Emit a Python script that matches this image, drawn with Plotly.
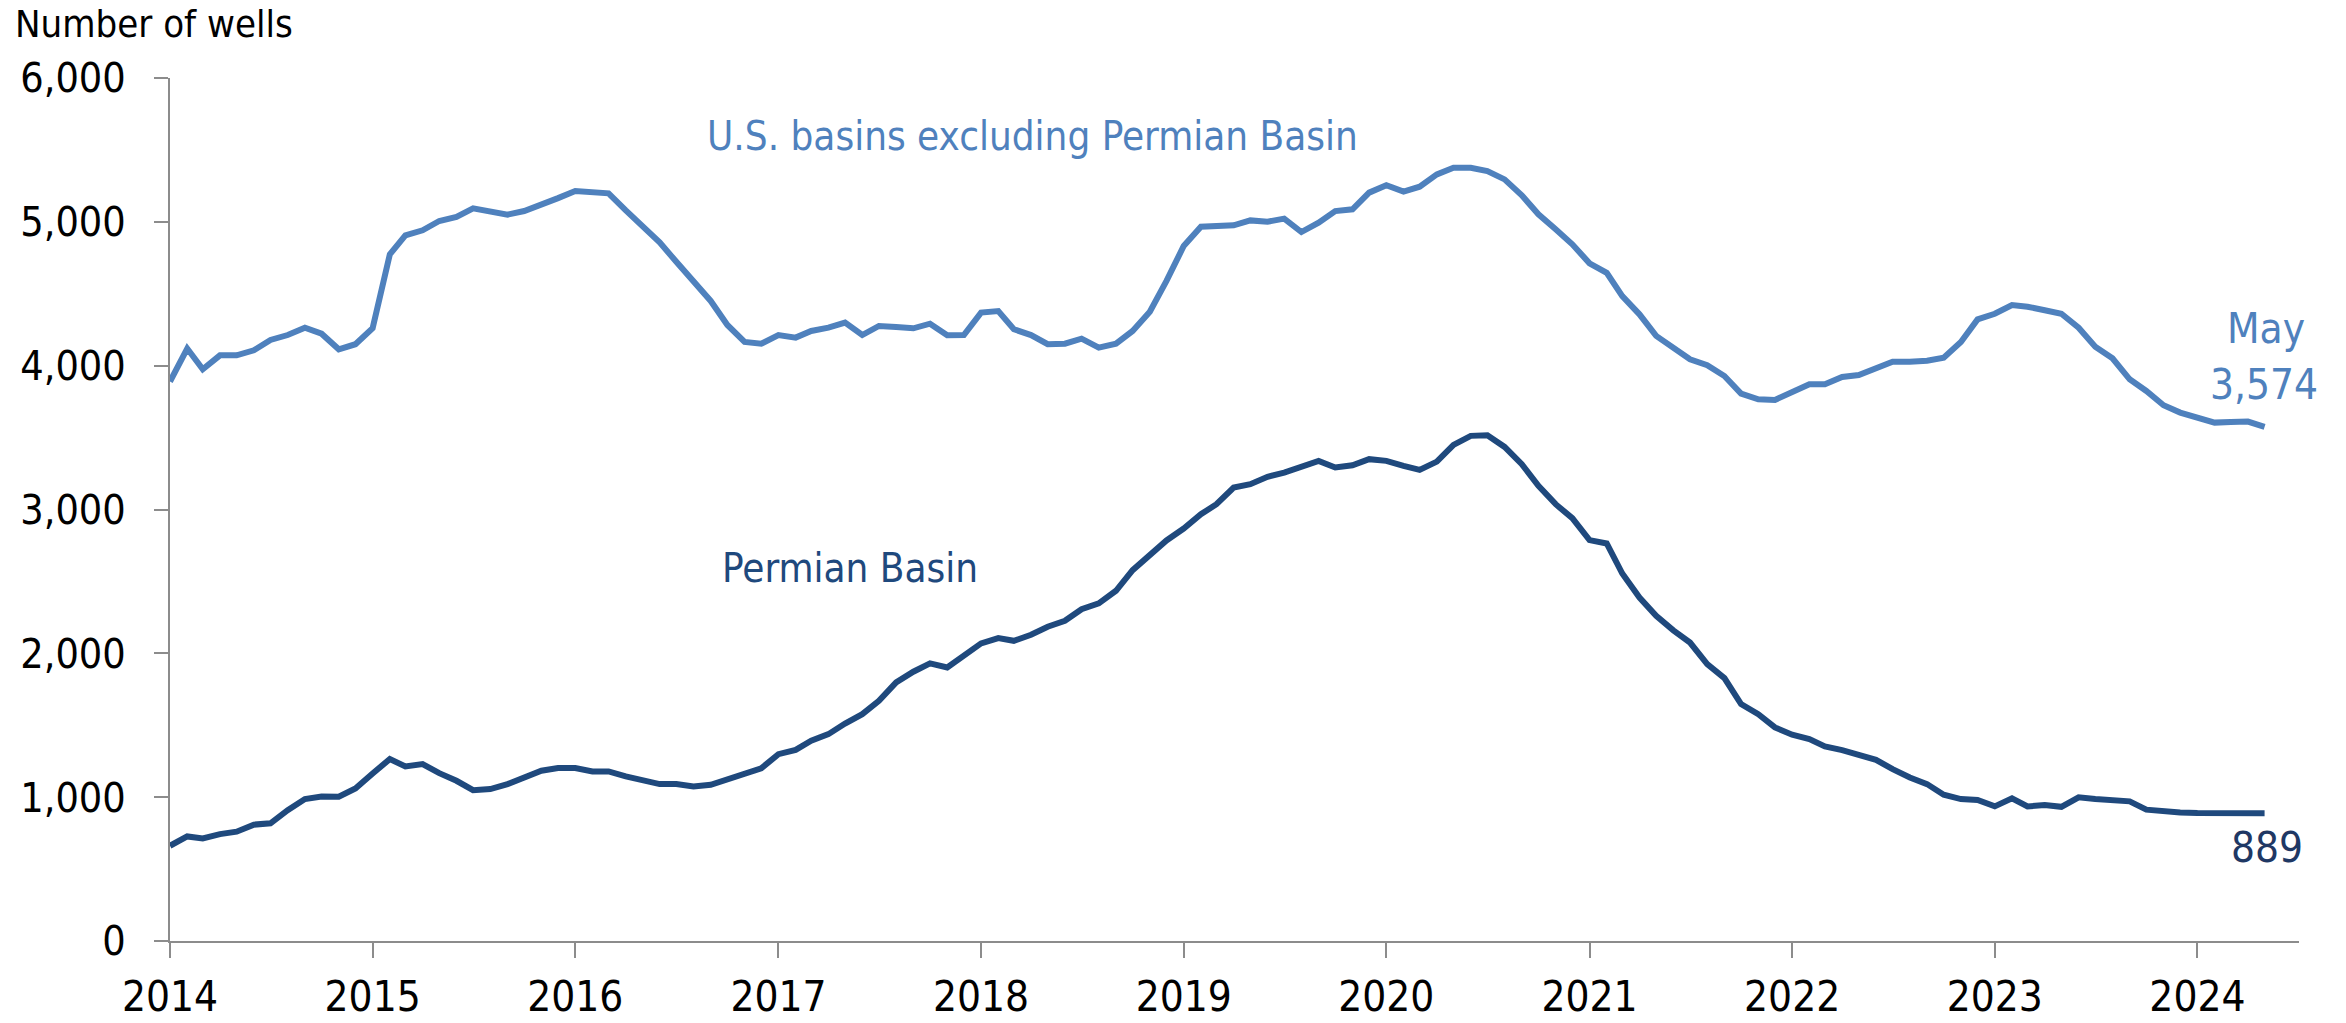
import plotly.graph_objects as go
import pandas as pd

# Monthly dates Jan 2014 - May 2024
dates = pd.date_range("2014-01-01", "2024-05-01", freq="MS").strftime("%Y-%m-%d").tolist()

us_excl_permian = [
    3890, 4119, 3975, 4072, 4072, 4107, 4179, 4213, 4264, 4222, 4114, 4149,
    4260, 4774, 4906, 4941, 5006, 5034, 5094, 5075, 5050, 5075, 5126, 5165,
    5214, 5207, 5198, 5080, 4964, 4858, 4722, 4593, 4450, 4283, 4165, 4153,
    4213, 4195, 4241, 4264, 4299, 4213, 4276, 4269, 4260, 4292, 4211, 4213,
    4369, 4380, 4253, 4213, 4149, 4153, 4188, 4125, 4153, 4241, 4375, 4589,
    4832, 4966, 4971, 4976, 5010, 5001, 5022, 4929, 4994, 5075, 5087, 5203,
    5254, 5210, 5244, 5330, 5376, 5376, 5353, 5295, 5184, 5052, 4948, 4844,
    4712, 4646, 4484, 4357, 4207, 4130, 4044, 4003, 3928, 3806, 3766, 3762,
    3812, 3871, 3871, 3921, 3935, 3986, 4027, 4027, 4034, 4055, 4165, 4322,
    4361, 4422, 4410, 4385, 4361, 4264, 4132, 4051, 3905, 3824, 3725, 3674,
    3639, 3604, 3609, 3611, 3574,
]

permian = [
    662, 727, 713, 743, 760, 809, 818, 910, 987, 1005, 1003, 1061,
    1165, 1265, 1214, 1230, 1167, 1114, 1049, 1056, 1091, 1137, 1184, 1202,
    1202, 1179, 1179, 1144, 1121, 1091, 1091, 1075, 1086, 1126, 1160, 1200,
    1299, 1329, 1392, 1438, 1512, 1577, 1670, 1798, 1872, 1930, 1902, 1990,
    2069, 2106, 2087, 2129, 2185, 2226, 2307, 2347, 2435, 2578, 2682, 2785,
    2868, 2967, 3037, 3153, 3176, 3227, 3257, 3303, 3338, 3292, 3308, 3350,
    3338, 3303, 3275, 3333, 3449, 3512, 3516, 3435, 3315, 3164, 3037, 2940,
    2787, 2764, 2555, 2388, 2261, 2160, 2075, 1925, 1828, 1647, 1577, 1485,
    1434, 1404, 1353, 1327, 1299, 1260, 1195, 1137, 1091, 1017, 987, 980,
    936, 992, 936, 945, 933, 999, 987, 982, 971, 913, 901, 894,
    890, 890, 891, 894, 889,
]

year_ticks = [f"{y}-01-01" for y in range(2014, 2025)]
year_labels = [str(y) for y in range(2014, 2025)]
y_ticks = [0, 1000, 2000, 3000, 4000, 5000, 6000]
y_labels = ["0", "1,000", "2,000", "3,000", "4,000", "5,000", "6,000"]

LIGHT = "#4F81BD"
DARK = "#1F497D"
FONT = "DejaVu Sans Condensed, Liberation Sans Narrow, Liberation Sans, sans-serif"
AXIS = "#8c8c8c"

fig = go.Figure()
fig.add_trace(go.Scatter(x=dates, y=us_excl_permian, mode="lines",
                         line=dict(color=LIGHT, width=6), name="U.S. basins excluding Permian Basin"))
fig.add_trace(go.Scatter(x=dates, y=permian, mode="lines",
                         line=dict(color=DARK, width=6), name="Permian Basin"))

fig.update_layout(
    template="none",
    width=2346, height=1023,
    margin=dict(l=170, r=47, t=78, b=82, autoexpand=False),
    paper_bgcolor="white", plot_bgcolor="white",
    showlegend=False,
    font=dict(family=FONT, size=41, color="black"),
)

fig.update_xaxes(
    type="date", range=["2014-01-01", "2024-07-02"],
    tickvals=year_ticks, ticktext=year_labels,
    showgrid=False, zeroline=False, automargin=False,
    showline=True, linecolor=AXIS, linewidth=2,
    ticks="outside", ticklen=15, tickwidth=2, tickcolor=AXIS,
    tickfont=dict(family=FONT, size=42, color="black"),
    ticklabelstandoff=3,
)
fig.update_yaxes(
    range=[0, 6000], tickvals=y_ticks, ticktext=y_labels,
    showgrid=False, zeroline=False, automargin=False,
    showline=True, linecolor=AXIS, linewidth=2,
    ticks="outside", ticklen=14, tickwidth=2, tickcolor=AXIS,
    tickfont=dict(family=FONT, size=41, color="black"),
    ticklabelstandoff=20,
)

def ann(text, x, y, color, xanchor="center", size=40):
    fig.add_annotation(text=text, xref="paper", yref="paper", x=x, y=y,
                       xanchor=xanchor, yanchor="middle", showarrow=False,
                       font=dict(family=FONT, size=size, color=color))

ann("Number of wells", -0.0737, 1.0626, "black", xanchor="left", size=38)
ann("U.S. basins excluding Permian Basin", 0.4049, 0.9328, LIGHT, size=40)
ann("Permian Basin", 0.3192, 0.4322, DARK, size=40)
ann("May", 0.9845, 0.7103, LIGHT, size=42)
ann("3,574", 0.9836, 0.6443, LIGHT, size=42)
ann("889", 0.985, 0.1089, "#1F3864", size=42)

fig.write_html(
    "out.html",
    config={"displayModeBar": False},
    post_script="document.body.style.margin='0';document.body.style.overflow='hidden';",
)
